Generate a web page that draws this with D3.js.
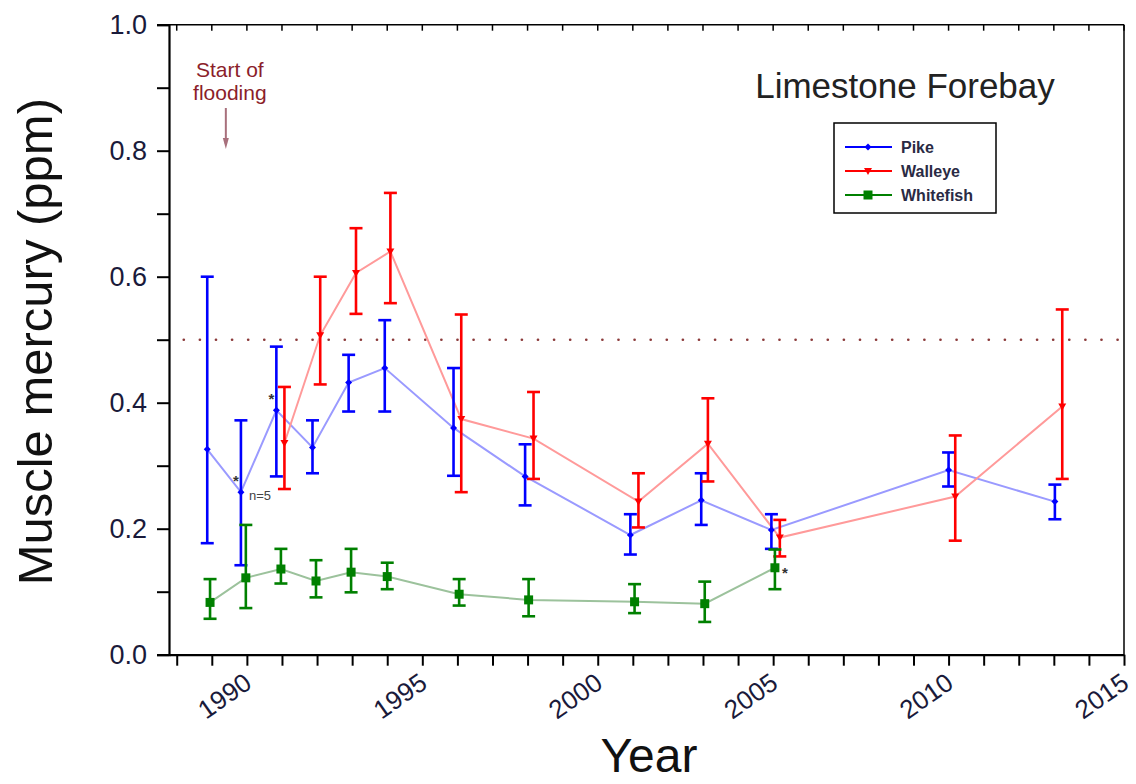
<!DOCTYPE html>
<html>
<head>
<meta charset="utf-8">
<script src="https://cdn.jsdelivr.net/npm/d3@7"></script>
<style>
	body { margin: 0; background: #fff; }
	svg { display: block; font-family: "Liberation Sans", Arial, sans-serif; }
</style>
</head>
<body>
<script>
// positions are decimal years (sampling dates)
const pikeYears = [1988.87, 1989.83, 1990.84, 1991.87, 1992.9, 1993.93, 1995.89, 1997.93, 2000.93, 2002.95, 2004.95, 2010.0, 2013.03];
const pikeMean = [0.326, 0.258, 0.388, 0.329, 0.432, 0.455, 0.36, 0.283, 0.19, 0.245, 0.198, 0.293, 0.243];
const pikeUpper = [0.6, 0.372, 0.489, 0.372, 0.476, 0.531, 0.455, 0.334, 0.223, 0.288, 0.223, 0.321, 0.27];
const pikeLower = [0.177, 0.142, 0.283, 0.288, 0.386, 0.386, 0.284, 0.237, 0.159, 0.206, 0.168, 0.267, 0.215];

const walleyeYears = [1991.07, 1992.09, 1993.11, 1994.09, 1996.11, 1998.17, 2001.16, 2003.14, 2005.19, 2010.19, 2013.24];
const walleyeMean = [0.336, 0.507, 0.606, 0.64, 0.374, 0.343, 0.243, 0.335, 0.186, 0.251, 0.394];
const walleyeUpper = [0.425, 0.6, 0.677, 0.733, 0.54, 0.417, 0.288, 0.407, 0.214, 0.348, 0.548];
const walleyeLower = [0.263, 0.429, 0.541, 0.558, 0.258, 0.279, 0.202, 0.275, 0.156, 0.181, 0.279];

const whitefishYears = [1988.95, 1989.97, 1990.97, 1991.97, 1992.97, 1994.0, 1996.05, 1998.03, 2001.05, 2003.05, 2005.05];
const whitefishMean = [0.083, 0.122, 0.136, 0.117, 0.131, 0.124, 0.096, 0.087, 0.084, 0.081, 0.138];
const whitefishUpper = [0.12, 0.206, 0.168, 0.15, 0.168, 0.146, 0.12, 0.12, 0.112, 0.116, 0.167];
const whitefishLower = [0.057, 0.074, 0.113, 0.091, 0.099, 0.104, 0.078, 0.061, 0.066, 0.052, 0.104];

const xTickLabels = [1990, 1995, 2000, 2005, 2010, 2015];
const yTickLabels = [0, 0.2, 0.4, 0.6, 0.8, 1.0];
const guideline = 0.5; // consumption guideline
const floodStart = 1989.4;

// asterisk marks: [series, index]
const starMarks = [["pike", 1], ["pike", 2], ["whitefish", 10]];

const svgWidth = 1136;
const svgHeight = 784;

const svg = d3.select("body")
	.append("svg")
	.attr("width", svgWidth)
	.attr("height", svgHeight);

const xScale = d3.scaleLinear()
	.domain([1987.78, 2015])
	.range([169, 1124]);

const yScale = d3.scaleLinear()
	.domain([0, 1])
	.range([654.7, 24.7]);

const series = [
	{ name: "Pike", key: "pike", years: pikeYears, mean: pikeMean, upper: pikeUpper, lower: pikeLower, color: "#0000ff", line: "#9a9aff", marker: "diamond" },
	{ name: "Walleye", key: "walleye", years: walleyeYears, mean: walleyeMean, upper: walleyeUpper, lower: walleyeLower, color: "#ff0000", line: "#ff9a9a", marker: "triangle" },
	{ name: "Whitefish", key: "whitefish", years: whitefishYears, mean: whitefishMean, upper: whitefishUpper, lower: whitefishLower, color: "#008000", line: "#9cc29c", marker: "square" }
];
series.forEach((s) => {
	s.points = s.years.map((yr, i) => ({ year: yr, value: s.mean[i], hi: s.upper[i], lo: s.lower[i] }));
});

const frameLayer = svg.append("g");
const dataLayer = svg.append("g");
const textLayer = svg.append("g");

// frame: top and right lines
frameLayer.append("line")
	.attr("x1", xScale.range()[0]).attr("x2", xScale.range()[1])
	.attr("y1", yScale(1)).attr("y2", yScale(1))
	.attr("stroke", "#000").attr("stroke-width", 1.5);
frameLayer.append("line")
	.attr("x1", xScale.range()[1]).attr("x2", xScale.range()[1])
	.attr("y1", yScale(1)).attr("y2", yScale(0))
	.attr("stroke", "#000").attr("stroke-width", 1.5);

// y axis, major + minor ticks
const yAxis = frameLayer.append("g")
	.attr("transform", `translate(${xScale.range()[0]} 0)`)
	.call(d3.axisLeft(yScale).tickValues(d3.range(0, 1.01, 0.1)).tickSize(12).tickPadding(10)
		.tickFormat((d) => (yTickLabels.some((v) => Math.abs(v - d) < 1e-6) ? d3.format(".1f")(d) : "")));
yAxis.select(".domain").attr("stroke-width", 2.2);
yAxis.selectAll(".tick line").attr("stroke-width", 2);
yAxis.selectAll(".tick text").attr("font-size", 27).attr("fill", "#1a1a3a");

// x axis, a tick every year
const xAxis = frameLayer.append("g")
	.attr("transform", `translate(0 ${yScale(0)})`)
	.call(d3.axisBottom(xScale).tickValues(d3.range(1988, 2016)).tickSize(11).tickSizeOuter(0)
		.tickFormat((d) => (xTickLabels.includes(d) ? d : "")));
xAxis.select(".domain").attr("stroke-width", 2.2);
xAxis.selectAll(".tick line").attr("stroke-width", 2);
xAxis.selectAll(".tick text")
	.attr("font-size", 26)
	.attr("fill", "#1a1a3a")
	.attr("text-anchor", "end")
	.attr("y", 0)
	.attr("dy", "0")
	.attr("transform", "translate(6 32) rotate(-35)");

// top ticks, pointing inward
frameLayer.append("g")
	.selectAll("line")
	.data(d3.range(1988, 2016))
	.join("line")
	.attr("x1", (d) => xScale(d)).attr("x2", (d) => xScale(d))
	.attr("y1", yScale(1)).attr("y2", yScale(1) + 6)
	.attr("stroke", "#000").attr("stroke-width", 1.5);

// 0.5 ppm guideline
dataLayer.append("line")
	.attr("x1", xScale(1988.2)).attr("x2", xScale.range()[1])
	.attr("y1", yScale(guideline)).attr("y2", yScale(guideline))
	.attr("stroke", "#8b3a3a")
	.attr("stroke-width", 2.6)
	.attr("stroke-linecap", "round")
	.attr("stroke-dasharray", "0.1,16");

const line = d3.line().x((d) => xScale(d.year)).y((d) => yScale(d.value));

// connecting lines first, then error bars, then markers
series.forEach((s) => {
	dataLayer.append("path")
		.datum(s.points)
		.attr("d", line)
		.attr("fill", "none")
		.attr("stroke", s.line)
		.attr("stroke-width", 2);
});

const cap = 6.5;
series.forEach((s) => {
	const g = dataLayer.append("g").attr("stroke", s.color).attr("stroke-width", 2.6);
	g.selectAll(".stem").data(s.points).join("line")
		.attr("x1", (d) => xScale(d.year)).attr("x2", (d) => xScale(d.year))
		.attr("y1", (d) => yScale(d.hi)).attr("y2", (d) => yScale(d.lo));
	g.selectAll(".top").data(s.points).join("line")
		.attr("x1", (d) => xScale(d.year) - cap).attr("x2", (d) => xScale(d.year) + cap)
		.attr("y1", (d) => yScale(d.hi)).attr("y2", (d) => yScale(d.hi));
	g.selectAll(".bot").data(s.points).join("line")
		.attr("x1", (d) => xScale(d.year) - cap).attr("x2", (d) => xScale(d.year) + cap)
		.attr("y1", (d) => yScale(d.lo)).attr("y2", (d) => yScale(d.lo));
});

const markerPath = (type) => {
	if (type === "diamond") return "M0,-3.5L3.5,0L0,3.5L-3.5,0Z";
	if (type === "triangle") return "M-4,-3L4,-3L0,4Z";
	return "M-4.5,-4.5H4.5V4.5H-4.5Z";
};

series.forEach((s) => {
	dataLayer.append("g")
		.selectAll("path")
		.data(s.points)
		.join("path")
		.attr("transform", (d) => `translate(${xScale(d.year)} ${yScale(d.value)})`)
		.attr("d", markerPath(s.marker))
		.attr("fill", s.color);
});

// asterisks and sample size note
const byKey = Object.fromEntries(series.map((s) => [s.key, s]));
textLayer.selectAll(".star")
	.data(starMarks)
	.join("text")
	.attr("x", ([k, i]) => xScale(byKey[k].points[i].year) + (k === "whitefish" ? 10 : -5))
	.attr("y", ([k, i]) => yScale(byKey[k].points[i].value) + (k === "whitefish" ? 10 : -6))
	.attr("text-anchor", "middle")
	.attr("font-size", 15)
	.attr("font-weight", "bold")
	.attr("fill", "#333")
	.text("*");

textLayer.append("text")
	.attr("x", xScale(pikeYears[1]) + 8)
	.attr("y", yScale(pikeMean[1]) + 8)
	.attr("font-size", 13)
	.attr("fill", "#444")
	.text("n=5");

// start of flooding annotation
const flood = textLayer.append("g").attr("fill", "#8b1e2a").attr("font-size", 21).attr("text-anchor", "middle");
flood.append("text").attr("x", xScale(floodStart) + 4).attr("y", 77).text("Start of");
flood.append("text").attr("x", xScale(floodStart) + 4).attr("y", 100).text("flooding");
textLayer.append("line")
	.attr("x1", xScale(floodStart)).attr("x2", xScale(floodStart))
	.attr("y1", 108).attr("y2", 144)
	.attr("stroke", "#a8707c").attr("stroke-width", 2);
textLayer.append("path")
	.attr("d", `M${xScale(floodStart) - 3},138L${xScale(floodStart) + 3},138L${xScale(floodStart)},149Z`)
	.attr("fill", "#a8707c");

// panel title
textLayer.append("text")
	.attr("x", 905)
	.attr("y", 98)
	.attr("text-anchor", "middle")
	.attr("font-size", 35)
	.attr("fill", "#222")
	.text("Limestone Forebay");

// legend
const legend = textLayer.append("g").attr("transform", "translate(834 123)");
legend.append("rect")
	.attr("width", 162).attr("height", 90)
	.attr("fill", "#fff").attr("stroke", "#000").attr("stroke-width", 1.5);
series.forEach((s, i) => {
	const row = legend.append("g").attr("transform", `translate(0 ${24 + i * 24})`);
	row.append("line").attr("x1", 11).attr("x2", 58).attr("stroke", s.color).attr("stroke-width", 2);
	row.append("path").attr("transform", "translate(34 0)").attr("d", markerPath(s.marker)).attr("fill", s.color);
	row.append("text")
		.attr("x", 67).attr("y", 6)
		.attr("font-size", 16).attr("font-weight", "bold").attr("fill", "#2a2a44")
		.text(s.name);
});

// axis titles
textLayer.append("text")
	.attr("transform", `translate(52 ${(yScale(0) + yScale(1)) / 2 + 2}) rotate(-90)`)
	.attr("text-anchor", "middle")
	.attr("font-size", 49)
	.attr("fill", "#111")
	.text("Muscle mercury (ppm)");

textLayer.append("text")
	.attr("x", 649)
	.attr("y", 772)
	.attr("text-anchor", "middle")
	.attr("font-size", 48)
	.attr("fill", "#111")
	.text("Year");
</script>
</body>
</html>
